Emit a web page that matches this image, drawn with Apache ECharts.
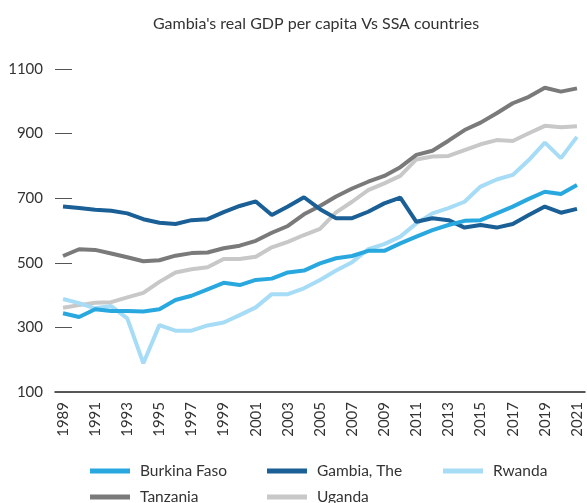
<!DOCTYPE html>
<html>
<head>
<meta charset="utf-8">
<script src="https://cdn.jsdelivr.net/npm/echarts@6/dist/echarts.min.js"></script>
<style>
  html, body { margin: 0; padding: 0; background: #fff; }
  #chart_container { width: 587px; height: 503px; }
</style>
</head>
<body>
<div id="chart_container"></div>
<script>
// years 1989..2021
var years = ['1989', '1990', '1991', '1992', '1993', '1994', '1995', '1996', '1997', '1998', '1999',
  '2000', '2001', '2002', '2003', '2004', '2005', '2006', '2007', '2008', '2009', '2010',
  '2011', '2012', '2013', '2014', '2015', '2016', '2017', '2018', '2019', '2020', '2021'];

var burkina = [344, 332, 356, 351, 351, 349, 356, 385, 398, 418, 438, 431, 447, 451, 470, 476, 498, 514, 521, 537, 537, 560, 581, 601, 617, 630, 632, 653, 674, 698, 720, 713, 741];
var gambia = [674, 670, 664, 661, 653, 635, 624, 620, 632, 635, 657, 676, 690, 648, 674, 703, 666, 638, 638, 658, 684, 702, 627, 638, 632, 609, 617, 609, 620, 648, 674, 655, 667];
var rwanda = [388, 375, 359, 366, 328, 189, 307, 290, 290, 306, 315, 338, 362, 403, 403, 421, 447, 476, 502, 542, 558, 581, 622, 653, 669, 689, 736, 758, 772, 818, 872, 824, 890];
var tanzania = [521, 542, 540, 529, 517, 505, 508, 522, 530, 532, 545, 553, 568, 593, 614, 650, 676, 705, 730, 751, 769, 796, 834, 847, 878, 911, 934, 963, 994, 1014, 1042, 1030, 1040];
var uganda = [361, 369, 376, 378, 393, 407, 441, 470, 480, 486, 512, 512, 519, 548, 565, 586, 605, 656, 689, 725, 746, 769, 820, 829, 831, 849, 867, 880, 877, 901, 924, 920, 923];

var names = ['Burkina Faso', 'Gambia, The', 'Rwanda', 'Tanzania', 'Uganda'];
var colors = ['#29a8e0', '#1a5f96', '#a6dcf5', '#7a7a7a', '#c8c8c8'];
var values = [burkina, gambia, rwanda, tanzania, uganda];

var chart = echarts.init(document.getElementById('chart_container'));

var series = [];
for (var i = 0; i < names.length; i++) {
  series.push({
    name: names[i],
    type: 'line',
    data: values[i],
    showSymbol: false,
    symbol: 'none',
    lineStyle: { width: 4, color: colors[i] },
    itemStyle: { color: colors[i] },
    z: 10 - i
  });
}

// one legend per item: 3 columns, 2 rows
function legendItem(name, left, top) {
  return {
    data: [name],
    left: left,
    top: top,
    icon: 'rect',
    itemWidth: 40,
    itemHeight: 5,
    padding: 0,
    textStyle: { fontSize: 15.5, lineHeight: 16, color: '#333', padding: [0, 0, 0, 5], fontFamily: 'Lato' }
  };
}

var option = {
  animation: false,
  textStyle: { fontFamily: 'Lato' },
  title: {
    text: "Gambia's real GDP per capita Vs SSA countries",
    left: 311,
    textAlign: 'center',
    top: 11,
    textStyle: { fontSize: 16, fontWeight: 'normal', color: '#333', fontFamily: 'Lato' }
  },
  legend: [
    legendItem('Burkina Faso', 90, 463),
    legendItem('Gambia, The', 267, 463),
    legendItem('Rwanda', 443, 463),
    legendItem('Tanzania', 90, 489),
    legendItem('Uganda', 267, 489)
  ],
  grid: { left: 55, right: 2, top: 69, bottom: 111, containLabel: false },
  xAxis: {
    type: 'category',
    data: years,
    boundaryGap: true,
    axisLine: { show: true, lineStyle: { color: '#222', width: 1.5 } },
    axisTick: { show: false },
    axisLabel: { rotate: 90, interval: 1, fontSize: 15, color: '#333', margin: 10 }
  },
  yAxis: {
    type: 'value',
    min: 100,
    max: 1100,
    interval: 200,
    axisLine: { show: false },
    axisTick: { show: true, inside: true, length: 17, lineStyle: { color: '#555', width: 1 } },
    splitLine: { show: false },
    axisLabel: { fontSize: 15, color: '#333', margin: 12, formatter: function (v) { return String(v); } }
  },
  series: series
};

chart.setOption(option);
</script>
</body>
</html>
